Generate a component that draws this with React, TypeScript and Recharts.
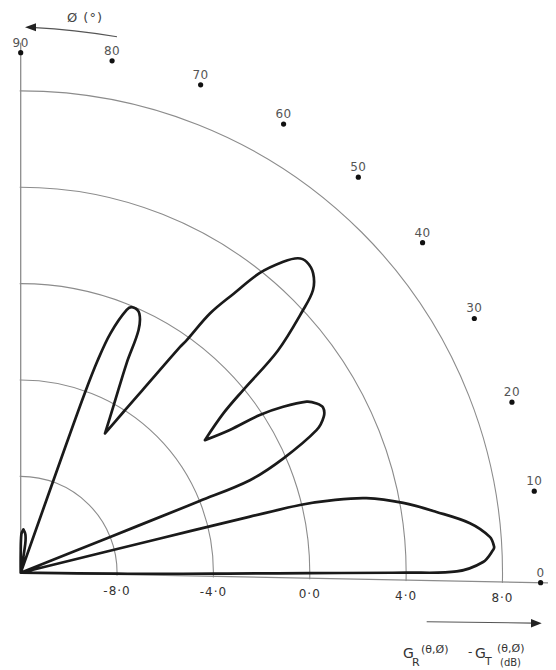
import {
  PolarAngleAxis,
  PolarGrid,
  PolarRadiusAxis,
  Radar,
  RadarChart,
} from "recharts";

// azimuth φ in degrees, swept from 0 to 90
const PHI = [
  0, 0.5, 0.8, 1.0, 1.1, 1.25, 2.4, 3.8, 4.2, 5.4, 7.3, 9.3, 11.3, 13.1, 14.0,
  14.55, 14.65, 14.72, 14.82, 22.5, 22.6, 22.65, 22.8, 24.3, 26.5, 28.0, 29.4,
  30.5, 31.6, 33.0, 34.1, 35.0, 36.4, 38.8, 40.0, 41.4, 43.5, 44.6, 46.2,
  47.9, 49.1, 50.3, 51.9, 53.1, 54.3, 54.9, 55.2, 56.7, 57.8, 59.2, 61.2, 63.5,
  64.4, 65.7, 67.3, 68.3, 69.7, 70.3, 70.6, 70.7, 70.8, 79.1, 81.1, 83.1, 86.5,
  89.0, 90.0,
];

// G_R(θ,φ) - G_T(θ,φ) in dB; nulls are pinned to the -12 dB centre
const GAIN = [
  -12, -8, -4, 0, 4, 6.1, 7.2, 7.63, 7.68, 7.53, 6.76, 5.44, 4.14, 2.68, 1.32,
  -0.07, -2.2, -6, -12, -12, -8, -4, -1.74, -0.12, 1.63, 2.15, 2.3, 2.15, 1.83,
  0.89, -0.11, -1.49, -2.58, -1.3, -0.05, 2.1, 4.01, 4.88, 5.37, 5.53,
  5.4, 4.89, 3.9, 2.57, 1.32, -0.14, -0.53, -2.89, -4.07, -5.24, -4.11, -2.26,
  -0.81, -0.17, -0.04, -0.24, -1.4, -2.6, -4.1, -6.3, -12, -12, -10.8, -10.4,
  -10.2, -10.4, -11.2,
];

const ANGLE_TICKS = [0, 10, 20, 30, 40, 50, 60, 70, 80, 90];
const GAIN_TICKS = [-8, -4, 0, 4, 8];

const data = PHI.map((phi, i) => ({ phi, gain: GAIN[i] }));

const W = 540;
const H = 662;
const CX = 12.7;
const CY = 564.7;
const R = 530; // radius of +10 dB
const DOT_R = 520; // angle marks sit just inside that
const START = -1.1; // the 0° axis runs slightly below horizontal
const FONT = "DejaVu Sans, sans-serif";

// quarter-plane mask so the rings stay between the two axes
const far = 800;
const t = (START * Math.PI) / 180;
const QUADRANT = [
  [CX - 1, CY + 1],
  [CX + far * Math.cos(t), CY - far * Math.sin(t) + 1],
  [CX + far, CY - far],
  [CX - 1, CY - far],
]
  .map((p) => p.join(","))
  .join(" ");

type Pt = { x: number; y: number };

const unit = (dx: number, dy: number) => {
  const len = Math.hypot(dx, dy) || 1;
  return { x: dx / len, y: dy / len };
};

// closed cubic through the radar points; nulls and sharp dips stay pointed
function smoothPath(raw: Pt[]) {
  const pts: Pt[] = [];
  raw.forEach((p) => {
    const last = pts[pts.length - 1];
    if (!last || Math.hypot(p.x - last.x, p.y - last.y) > 0.3) pts.push(p);
  });
  const first = pts[0];
  const tail = pts[pts.length - 1];
  if (pts.length > 1 && Math.hypot(first.x - tail.x, first.y - tail.y) < 0.3) pts.pop();
  const n = pts.length;
  const tangents = pts.map((p, i) => {
    if (Math.hypot(p.x - CX, p.y - CY) < 1) return { x: 0, y: 0 };
    const a = pts[(i - 1 + n) % n];
    const b = pts[(i + 1) % n];
    const inDir = unit(p.x - a.x, p.y - a.y);
    const outDir = unit(b.x - p.x, b.y - p.y);
    if (inDir.x * outDir.x + inDir.y * outDir.y < -0.6) return { x: 0, y: 0 };
    return unit(b.x - a.x, b.y - a.y);
  });
  let d = `M${pts[0].x},${pts[0].y}`;
  for (let i = 0; i < n; i++) {
    const j = (i + 1) % n;
    const p = pts[i];
    const q = pts[j];
    const seg = Math.hypot(q.x - p.x, q.y - p.y) / 3;
    const c1x = p.x + tangents[i].x * seg;
    const c1y = p.y + tangents[i].y * seg;
    const c2x = q.x - tangents[j].x * seg;
    const c2y = q.y - tangents[j].y * seg;
    d += `C${c1x},${c1y} ${c2x},${c2y} ${q.x},${q.y}`;
  }
  return d + "Z";
}

function PatternShape({ points }: any) {
  if (!points || !points.length) return null;
  return (
    <path
      d={smoothPath(points)}
      fill="none"
      stroke="#1a1a1a"
      strokeWidth={2.7}
      strokeLinejoin="round"
    />
  );
}

function AngleTick({ x, y, payload }: any) {
  return (
    <g>
      <circle cx={x} cy={y} r={2.6} fill="#111" />
      <text
        x={x}
        y={y - 6}
        textAnchor="middle"
        fontSize={12}
        fill="#555"
        fontFamily={FONT}
        letterSpacing={0.5}
      >
        {payload.value}
      </text>
    </g>
  );
}

function GainTick({ x, y, payload }: any) {
  const label = Number(payload.value).toFixed(1).replace(".", "·");
  return (
    <text
      x={x}
      y={y + 20}
      textAnchor="middle"
      fontSize={12}
      fill="#333"
      fontFamily={FONT}
      letterSpacing={1}
    >
      {label}
    </text>
  );
}

export default function App() {
  return (
    <div style={{ position: "relative", width: W, height: H }}>
      <RadarChart
        width={W}
        height={H}
        data={data}
        cx={CX}
        cy={CY}
        innerRadius={0}
        outerRadius={R}
        startAngle={START}
        endAngle={90}
        margin={{ top: 0, right: 0, bottom: 0, left: 0 }}
      >
        <PolarGrid
          gridType="circle"
          radialLines={false}
          stroke="#8c8c8c"
          strokeWidth={1.1}
          clipPath="url(#quadrant)"
        />
        <PolarGrid
          polarRadius={[]}
          polarAngles={[START, 90]}
          radialLines
          outerRadius={DOT_R}
          stroke="#8c8c8c"
          strokeWidth={1.3}
        />
        <PolarAngleAxis
          dataKey="phi"
          type="number"
          domain={[0, 90]}
          ticks={ANGLE_TICKS}
          allowDataOverflow
          axisLine={false}
          tickLine={false}
          tickSize={DOT_R - R}
          tick={AngleTick}
        />
        <PolarRadiusAxis
          type="number"
          angle={START}
          domain={[-12, 10]}
          ticks={GAIN_TICKS}
          allowDataOverflow
          axisLine={false}
          tick={GainTick}
        />
        <Radar
          dataKey="gain"
          stroke="#1a1a1a"
          strokeWidth={2.7}
          fill="none"
          fillOpacity={0}
          dot={false}
          shape={PatternShape}
          isAnimationActive={false}
        />
      </RadarChart>

      <svg
        width={W}
        height={H}
        style={{ position: "absolute", left: 0, top: 0, pointerEvents: "none" }}
      >
        <defs>
          <clipPath id="quadrant" clipPathUnits="userSpaceOnUse">
            <polygon points={QUADRANT} />
          </clipPath>
        </defs>

        {/* angle axis title with its arrow */}
        <text x={59} y={14} fontSize={13} fill="#444" fontFamily={FONT} letterSpacing={1}>
          Ø (°)
        </text>
        <path d="M 109 28.7 Q 65 21.5 27 19.6" stroke="#555" strokeWidth={1.1} fill="none" />
        <polygon points="17,19.3 28,15.3 28,23.3" fill="#222" />

        {/* gain axis arrow and title */}
        <line x1={418.7} y1={613.7} x2={525} y2={615.1} stroke="#555" strokeWidth={1.1} />
        <polygon points="533.7,615.3 523,611 523,619.6" fill="#222" />
        <g fontFamily={FONT} fill="#333">
          <text x={395} y={650} fontSize={14}>G</text>
          <text x={404} y={658} fontSize={11}>R</text>
          <text x={413} y={645} fontSize={11}>(θ,Ø)</text>
          <text x={460} y={648} fontSize={12}>-</text>
          <text x={467} y={650} fontSize={14}>G</text>
          <text x={477} y={657} fontSize={11}>T</text>
          <text x={489} y={644} fontSize={11}>(θ,Ø)</text>
          <text x={492} y={658} fontSize={10}>(dB)</text>
        </g>
      </svg>
    </div>
  );
}
